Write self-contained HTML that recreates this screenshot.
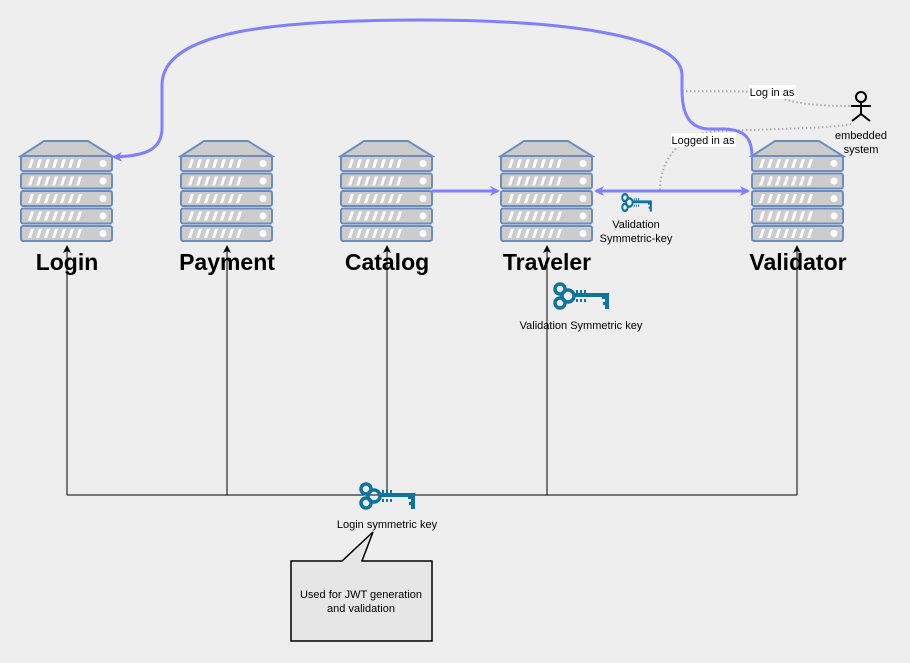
<!DOCTYPE html>
<html><head><meta charset="utf-8"><style>
html,body{margin:0;padding:0;background:#eeeeee;}
svg{display:block;font-family:"Liberation Sans",Arial,sans-serif;}
</style></head><body>
<svg width="910" height="663" viewBox="0 0 910 663" xmlns="http://www.w3.org/2000/svg">
<defs>
<g id="srv">
  <path d="M23,0 L67,0 L91,15 L0,15 Z" fill="#cccccc" stroke="#6c8ebf" stroke-width="2"/>
  <g id="row">
    <rect x="0" y="15" width="91" height="15" rx="2" fill="#cccccc" stroke="#6c8ebf" stroke-width="2"/>
    <path d="M7,27 l3,-9 h3 l-3,9z M15,27 l3,-9 h3 l-3,9z M23,27 l3,-9 h3 l-3,9z M31,27 l3,-9 h3 l-3,9z M39,27 l3,-9 h3 l-3,9z M47,27 l3,-9 h3 l-3,9z M55,27 l3,-9 h3 l-3,9z" fill="#fff"/>
    <circle cx="82" cy="22.5" r="3.5" fill="#fff"/>
  </g>
  <use href="#row" y="17.5"/>
  <use href="#row" y="35"/>
  <use href="#row" y="52.5"/>
  <use href="#row" y="70"/>
</g>
<g id="key">
  <g fill="none" stroke="#10739e" stroke-width="3.5">
    <circle cx="9" cy="8" r="5"/><circle cx="9" cy="22" r="5"/><circle cx="17" cy="15" r="6"/>
  </g>
  <path d="M22,12 h36 v16 h-4 v-4 h-2 v-3 h2 v-3 h-3 v-2 h-29 z M28,12 v-1 M32,10 v2" fill="#10739e"/>
  <path d="M26,9 v3 M30,9 v3 M34,9 v3 M26,18 v3 M30,18 v3 M34,18 v3" stroke="#10739e" stroke-width="2"/>
</g>
<marker id="ab" markerWidth="10" markerHeight="10" refX="8" refY="5" orient="auto" markerUnits="userSpaceOnUse">
  <path d="M0,0 L10,5 L0,10 L3,5 Z" fill="#7f7fff"/>
</marker>
<marker id="ak" markerWidth="8" markerHeight="8" refX="7" refY="4" orient="auto" markerUnits="userSpaceOnUse">
  <path d="M0,0 L8,4 L0,8 L2,4 Z" fill="#000"/>
</marker>
</defs>

<!-- black connectors -->
<g stroke="#000" stroke-width="1" fill="none">
  <path d="M67,495 H797"/>
  <path d="M67,495 V246" marker-end="url(#ak)"/>
  <path d="M227,495 V246" marker-end="url(#ak)"/>
  <path d="M387,495 V246" marker-end="url(#ak)"/>
  <path d="M547,495 V246" marker-end="url(#ak)"/>
  <path d="M797,495 V246" marker-end="url(#ak)"/>
</g>

<!-- servers -->
<use href="#srv" x="21" y="141"/>
<use href="#srv" x="181" y="141"/>
<use href="#srv" x="341" y="141"/>
<use href="#srv" x="501" y="141"/>
<use href="#srv" x="752" y="141"/>

<g font-size="23" font-weight="bold" text-anchor="middle" fill="#000">
  <text x="67" y="270">Login</text>
  <text x="227" y="270">Payment</text>
  <text x="387" y="270">Catalog</text>
  <text x="547" y="270">Traveler</text>
  <text x="798" y="270">Validator</text>
</g>

<!-- dotted -->
<g stroke="#aaaaaa" stroke-width="2" stroke-dasharray="1.5,2.5" fill="none">
  <path d="M682,91 C730,92 760,90 775,95 C790,104 820,106 852,106"/>
  <path d="M660,190 C660,160 680,132 720,131 C780,129 830,128 852,124"/>
</g>
<rect x="749" y="85" width="47" height="14" fill="#fff"/>
<text x="772" y="96" font-size="11" text-anchor="middle">Log in as</text>
<rect x="671" y="133" width="65" height="14" fill="#fff"/>
<text x="703" y="144" font-size="11" text-anchor="middle">Logged in as</text>

<!-- blue connectors -->
<g stroke="#7f7fff" stroke-width="3" fill="none">
  <path d="M752,157 C752,138 745,130 725,129 L708,129 C690,128 682,115 682,90 L682,75 C682,35 560,20 420,20 C280,20 162,30 162,85 L162,128 C162,150 145,156 114,157" marker-end="url(#ab)"/>
  <path d="M432,191 H498" marker-end="url(#ab)"/>
  <path d="M600,191 H748" marker-end="url(#ab)"/>
  <path d="M604,191 H596" marker-end="url(#ab)"/>
</g>

<!-- actor -->
<g stroke="#000" stroke-width="2" fill="none">
  <circle cx="861" cy="97" r="5"/>
  <path d="M861,102 V114 M851,106 H871 M861,114 L852,121 M861,114 L870,121"/>
</g>
<text x="861" y="139" font-size="11" text-anchor="middle">embedded</text>
<text x="861" y="153" font-size="11" text-anchor="middle">system</text>

<!-- keys -->
<use href="#key" transform="translate(620,192) scale(0.55,0.7)"/>
<text x="636" y="228" font-size="11" text-anchor="middle">Validation</text>
<text x="636" y="242" font-size="11" text-anchor="middle">Symmetric-key</text>

<use href="#key" x="551" y="281"/>
<text x="581" y="329" font-size="11" text-anchor="middle">Validation Symmetric key</text>

<use href="#key" x="357" y="481"/>
<text x="387" y="528" font-size="11" text-anchor="middle">Login symmetric key</text>

<!-- callout -->
<path d="M291,561 H342 L373,532 L362,561 H432 V641 H291 Z" fill="#e6e6e6" stroke="#000" stroke-width="1.5"/>
<text x="361" y="598" font-size="11" text-anchor="middle">Used for JWT generation</text>
<text x="361" y="612" font-size="11" text-anchor="middle">and validation</text>
</svg>
</body></html>
